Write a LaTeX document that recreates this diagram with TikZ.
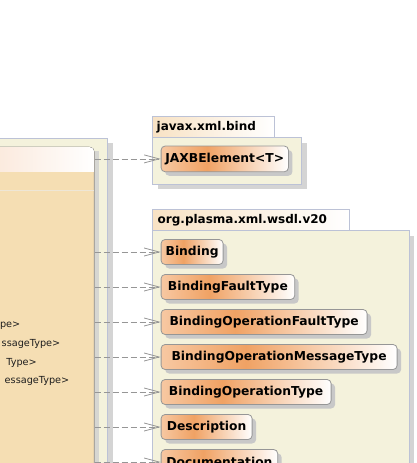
\documentclass[tikz,border=0pt]{standalone}
\usepackage{fontspec}
\setmainfont{DejaVu Sans}
\usetikzlibrary{arrows.meta,shadows}
\definecolor{pkgfill}{RGB}{244,242,220}
\definecolor{pkgborder}{RGB}{188,194,214}
\definecolor{pkgshadow}{RGB}{212,212,212}
\definecolor{tabL}{RGB}{248,226,196}
\definecolor{clsbody}{RGB}{245,222,179}
\definecolor{clshdrL}{RGB}{250,228,212}
\definecolor{clsborder}{RGB}{140,140,140}
\definecolor{clssep}{RGB}{238,230,214}
\definecolor{clsshadow}{RGB}{214,214,210}
\definecolor{elemL}{RGB}{247,200,162}
\definecolor{elemM}{RGB}{240,162,100}
\definecolor{elemborder}{RGB}{150,150,150}
\definecolor{elemshadow}{RGB}{200,200,200}
\definecolor{arrowgray}{RGB}{150,150,150}
\definecolor{attrtext}{RGB}{30,30,30}
\pgfdeclarehorizontalshading{elemshade}{100bp}{color(0bp)=(elemL); color(25bp)=(elemL); color(43bp)=(elemM); color(75bp)=(white); color(100bp)=(white)}
\begin{document}
\begin{tikzpicture}[x=1pt,y=-1pt,
  elem/.style={draw=elemborder, line width=0.8pt, rounded corners=4pt, shading=elemshade,
    minimum height=25pt, inner sep=0pt, anchor=west, text=black,
    font=\bfseries\fontsize{12.3}{14}\selectfont,
    drop shadow={shadow xshift=4pt, shadow yshift=-4pt, fill=elemshadow, opacity=1}},
  pkgbody/.style={fill=pkgfill, draw=pkgborder, line width=0.8pt},
  pkgtab/.style={left color=tabL, right color=white, draw=pkgborder, line width=0.8pt},
  pkgshade/.style={fill=pkgshadow},
  pkgname/.style={anchor=west, inner sep=0pt, font=\bfseries\fontsize{12}{14}\selectfont},
  attr/.style={anchor=east, inner sep=0pt, text=attrtext, font=\fontsize{9.7}{11}\selectfont},
  dep/.style={draw=arrowgray, line width=0.8pt, dash pattern=on 6pt off 3pt,
    -{Straight Barb[length=15pt,width=8pt]}}]
\useasboundingbox (0,0) rectangle (416,463);
\fill[white] (0,0) rectangle (416,463);
% left package
\fill[pkgshade] (-25,143.3) rectangle (112.7,520);
\draw[pkgbody] (-30,138.3) rectangle (107.7,520);
% class box
\fill[clsshadow] (-26,151) rectangle (98.7,520);
\node[fill=clsbody, draw=clsborder, line width=0.8pt, rounded corners=5pt, inner sep=0pt,
  minimum width=124.7pt, minimum height=373.3pt, anchor=north east] (cls) at (94.7,146.7) {};
\begin{scope}
\clip[rounded corners=4.5pt] (-30,147.1) rectangle (94.3,520);
\fill[left color=clshdrL, right color=white] (-30,147.1) rectangle (94.3,171.7);
\end{scope}
\draw[clssep, line width=1pt] (-30,190) -- (94.2,190);
\node[attr] (a1) at (20.5,325.5) {pe>};
\node[attr] (a2) at (60.5,344) {ssageType>};
\node[attr] (a3) at (37,362.5) {Type>};
\node[attr] (a4) at (69.5,381) {essageType>};
% javax.xml.bind package
\fill[pkgshade] (157.7,142.5) rectangle (306.7,189);
\draw[pkgbody] (152.7,137.5) rectangle (301.7,184);
\draw[pkgtab] (152.7,116.5) rectangle (274,137.5);
\node[pkgname] (p1) at (156.5,127.5) {javax.xml.bind};
% org.plasma.xml.wsdl.v20 package
\fill[pkgshade] (157.7,235.7) rectangle (414.3,520);
\draw[pkgbody] (152.7,230.7) rectangle (409.3,520);
\draw[pkgtab] (152.7,209.3) rectangle (349.3,230.7);
\node[pkgname] (p2) at (157.5,220.5) {org.plasma.xml.wsdl.v20};
% elements
\node[elem, minimum width=127.3pt, minimum height=25.7pt] (jaxb) at (160.7,158.9) {JAXBElement<T>};
\node[elem, minimum width=62pt] (binding) at (160.7,252) {Binding};
\node[elem, minimum width=133.6pt] (bft) at (160.7,287) {BindingFaultType};
\node[elem, minimum width=206pt] (boft) at (160.7,322) {BindingOperationFaultType};
\node[elem, minimum width=236pt] (bomt) at (160.7,357) {BindingOperationMessageType};
\node[elem, minimum width=170pt] (bot) at (160.7,392) {BindingOperationType};
\node[elem, minimum width=91pt] (desc) at (160.7,427) {Description};
\node[elem, minimum width=116.6pt] (doc) at (160.7,462) {Documentation};
% dependencies
\foreach \t in {jaxb,binding,bft,boft,bomt,bot,desc,doc}
  \draw[dep] (cls.east |- \t.west) -- (\t.west);
\end{tikzpicture}
\end{document}
